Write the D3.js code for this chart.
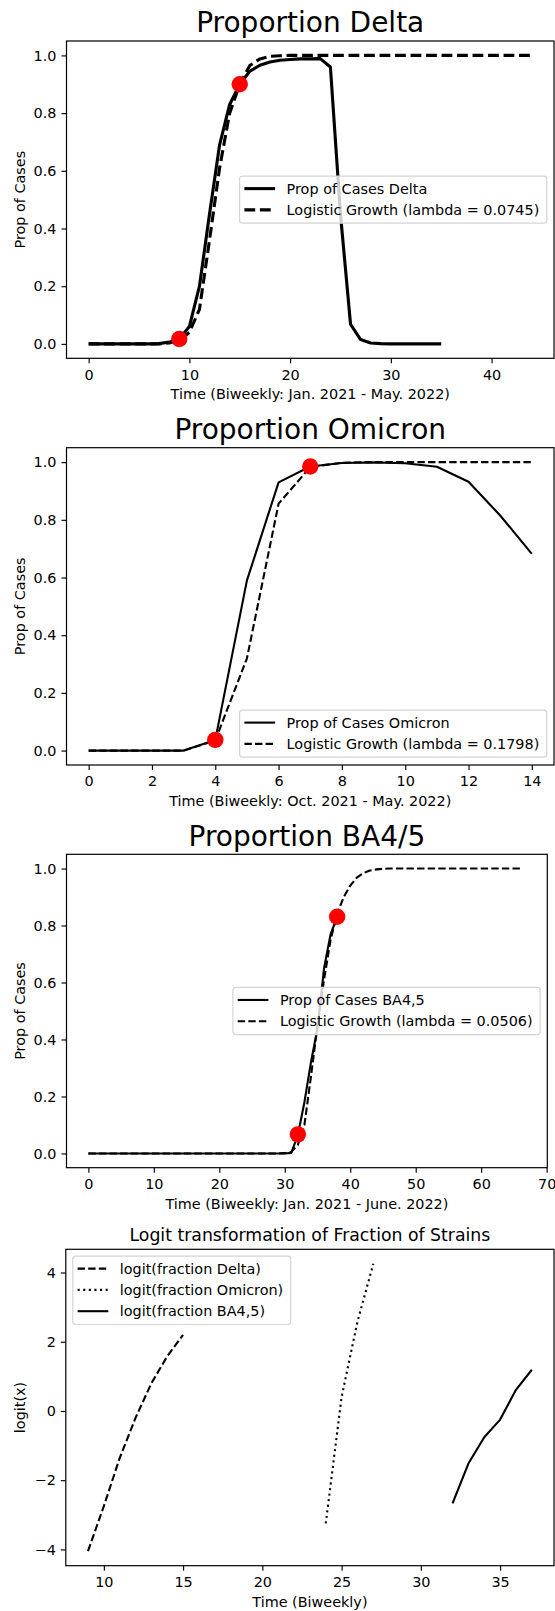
<!DOCTYPE html>
<html><head><meta charset="utf-8">
<script src="https://cdn.jsdelivr.net/npm/d3@7"></script>
<style>
body{margin:0;background:#fff}
svg{display:block}
text{font-family:"DejaVu Sans",sans-serif;fill:#000}
</style>
</head><body>
<svg id="chart" width="555" height="1611"></svg>
<script>
// ---------------- DATA ----------------
// Panel 1: Delta (biweekly index 0..35 observed, 0..44 logistic)
const deltaProp = [0,0,0,0,0,0,0,0.001,0.006,0.017,0.06,0.2,0.45,0.69,0.83,0.9,0.945,0.966,0.977,0.983,0.986,0.988,0.988,0.989,0.96,0.45,0.068,0.015,0.003,0.001,0,0,0,0,0,0];
const deltaLogistic = [0,0,0,0,0,0,0,0,0.003,0.012,0.04,0.12,0.36,0.61,0.8,0.9,0.965,0.988,0.997,0.999,1,1,1,1,1,1,1,1,1,1,1,1,1,1,1,1,1,1,1,1,1,1,1,1,1];
const deltaDotsT = [9, 15];
const deltaDotsV = [0.017, 0.9];

// Panel 2: Omicron (0..14)
const omicronProp = [0,0,0,0,0.037,0.59,0.93,0.985,0.997,0.999,0.996,0.984,0.932,0.815,0.682];
const omicronLogistic = [0,0,0,0,0.035,0.32,0.856,0.983,0.998,1,1,1,1,1,1];
const omicronDotsT = [4, 7];
const omicronDotsV = [0.037, 0.985];

// Panel 3: BA4/5 (0..38 observed, 0..66 logistic)
const ba45Prop = [0,0,0,0,0,0,0,0,0,0,0,0,0,0,0,0,0,0,0,0,0,0,0,0,0,0,0,0,0,0,0,0.002,0.065,0.18,0.32,0.44,0.65,0.77,0.83];
const ba45Logistic = [0,0,0,0,0,0,0,0,0,0,0,0,0,0,0,0,0,0,0,0,0,0,0,0,0,0,0,0,0,0,0.001,0.006,0.03,0.1,0.27,0.45,0.61,0.75,0.84,0.9,0.94,0.968,0.984,0.993,0.997,0.999,1,1,1,1,1,1,1,1,1,1,1,1,1,1,1,1,1,1,1,1,1];
const ba45DotsT = [32, 38];
const ba45DotsV = [0.067, 0.831];

// Panel 4: logit transforms
const logitDeltaT = [9,10,11,12,13,14,15];
const logitDelta = [-4.05,-2.75,-1.36,-0.2,0.8,1.58,2.2];
const logitOmicronT = [24,25,26,27];
const logitOmicron = [-3.25,0.4,2.58,4.25];
const logitBA45T = [32,33,34,35,36,37];
const logitBA45 = [-2.67,-1.52,-0.76,-0.25,0.61,1.19];

// Tick labels
const propTicks = [0,0.2,0.4,0.6,0.8,1.0];
const deltaXTicks = [0,10,20,30,40];
const omicronXTicks = [0,2,4,6,8,10,12,14];
const ba45XTicks = [0,10,20,30,40,50,60,70];
const logitXTicks = [10,15,20,25,30,35];
const logitYTicks = [-4,-2,0,2,4];

// Titles / labels
const titles = ["Proportion Delta","Proportion Omicron","Proportion BA4/5","Logit transformation of Fraction of Strains"];
const xLabels = ["Time (Biweekly: Jan. 2021 - May. 2022)","Time (Biweekly: Oct. 2021 - May. 2022)","Time (Biweekly: Jan. 2021 - June. 2022)","Time (Biweekly)"];
const yLabels = ["Prop of Cases","Prop of Cases","Prop of Cases","logit(x)"];
const legendLabels = [
  ["Prop of Cases Delta","Logistic Growth (lambda = 0.0745)"],
  ["Prop of Cases Omicron","Logistic Growth (lambda = 0.1798)"],
  ["Prop of Cases BA4,5","Logistic Growth (lambda = 0.0506)"],
  ["logit(fraction Delta)","logit(fraction Omicron)","logit(fraction BA4,5)"]
];

// ---------------- DRAW ----------------
const svg = d3.select("#chart");
const FS = 14.4;
const idx = arr => arr.map((v,i)=>[i,v]);
const zip = (ts,vs) => ts.map((t,i)=>[t,vs[i]]);

function styleFor(kind, lw){
  if(kind==="dashed") return {w:lw, dash:(3.5*lw).toFixed(1)+","+(1.5*lw).toFixed(1), cap:"butt"};
  if(kind==="dotted") return {w:lw, dash:(1*lw).toFixed(1)+","+(1.65*lw).toFixed(1), cap:"butt"};
  return {w:lw, dash:null, cap:"butt"};
}

function panel(cfg){
  const g = svg.append("g");
  const x = d3.scaleLinear().domain(cfg.xDomain).range([cfg.left,cfg.right]);
  const y = d3.scaleLinear().domain(cfg.yDomain).range([cfg.bottom,cfg.top]);

  const line = d3.line().x(d=>x(d[0])).y(d=>y(d[1]));
  cfg.series.forEach(s=>{
    const st = styleFor(s.kind, cfg.lw);
    g.append("path").datum(s.data).attr("d",line)
      .attr("fill","none").attr("stroke","#000").attr("stroke-width",st.w)
      .attr("stroke-linejoin","round").attr("stroke-linecap",st.cap)
      .attr("stroke-dasharray",st.dash);
  });
  if(cfg.dots){
    g.selectAll("circle.dot").data(cfg.dots).enter().append("circle")
      .attr("cx",d=>x(d[0])).attr("cy",d=>y(d[1])).attr("r",8.2).attr("fill","#ff0000");
  }

  const xa = g.append("g").attr("transform",`translate(0,${cfg.bottom})`)
    .call(d3.axisBottom(x).tickValues(cfg.xTicks).tickSize(5).tickPadding(6).tickFormat(d3.format("d")));
  const ya = g.append("g").attr("transform",`translate(${cfg.left},0)`)
    .call(d3.axisLeft(y).tickValues(cfg.yTicks).tickSize(5).tickPadding(5).tickFormat(cfg.yFmt));
  [xa,ya].forEach(a=>{
    a.select(".domain").remove();
    a.selectAll("line").attr("stroke","#000").attr("stroke-width",1.15);
    a.selectAll("text").attr("font-size",FS).attr("font-family","DejaVu Sans").attr("fill","#000");
  });

  g.append("rect").attr("x",cfg.left).attr("y",cfg.top)
    .attr("width",cfg.right-cfg.left).attr("height",cfg.bottom-cfg.top)
    .attr("fill","none").attr("stroke","#000").attr("stroke-width",1.2);

  g.append("text").attr("x",(cfg.left+cfg.right)/2).attr("y",cfg.top-8.8)
    .attr("text-anchor","middle").attr("font-size",cfg.titleSize).text(cfg.title);
  g.append("text").attr("x",(cfg.left+cfg.right)/2).attr("y",cfg.bottom+41)
    .attr("text-anchor","middle").attr("font-size",FS).text(cfg.xLabel);
  g.append("text").attr("transform",`translate(24.5,${(cfg.top+cfg.bottom)/2}) rotate(-90)`)
    .attr("text-anchor","middle").attr("font-size",FS).text(cfg.yLabel);

  const lg = g.append("g");
  const rowH = 21.3, topPad = 12.5, botPad = 13.3;
  const n = cfg.legend.length;
  const h = topPad + rowH*(n-1) + botPad;
  const rect = lg.append("rect").attr("rx",3).attr("ry",3)
    .attr("fill","#fff").attr("fill-opacity",0.8)
    .attr("stroke","#d4d4d4").attr("stroke-width",1.2);
  const texts = [];
  cfg.legend.forEach((L,i)=>{
    texts.push(lg.append("text").attr("font-size",FS).attr("dy","0.36em").text(L.label));
  });
  const maxW = d3.max(texts, t=>t.node().getComputedTextLength());
  const w = 47 + maxW + 7.5;
  let lx, ly;
  if(cfg.legendLoc==="center right"){ lx = cfg.right-7.2-w; ly = (cfg.top+cfg.bottom)/2 - h/2; }
  else if(cfg.legendLoc==="lower right"){ lx = cfg.right-7.2-w; ly = cfg.bottom-7.8-h; }
  else { lx = cfg.left+7.0; ly = cfg.top+6.8; }
  rect.attr("x",lx).attr("y",ly).attr("width",w).attr("height",h);
  cfg.legend.forEach((L,i)=>{
    const cy = ly + topPad + rowH*i;
    const st = styleFor(L.kind, cfg.lw);
    lg.append("line").attr("x1",lx+4.8).attr("x2",lx+35.5).attr("y1",cy).attr("y2",cy)
      .attr("stroke","#000").attr("stroke-width",st.w).attr("stroke-dasharray",st.dash)
      .attr("stroke-linecap",st.cap);
    texts[i].attr("x",lx+47).attr("y",cy);
    texts[i].raise();
  });
}

const f1 = d3.format(".1f");

panel({
  left:66.5,right:554,top:41,bottom:358.3,
  xDomain:[-2.2,46.2], yDomain:[-0.05,1.05], lw:3.1,
  xTicks:deltaXTicks, yTicks:propTicks, yFmt:f1,
  series:[{data:idx(deltaProp),kind:"solid"},{data:idx(deltaLogistic),kind:"dashed"}],
  dots:zip(deltaDotsT,deltaDotsV),
  title:titles[0], titleSize:28, xLabel:xLabels[0], yLabel:yLabels[0],
  legendLoc:"center right",
  legend:[{label:legendLabels[0][0],kind:"solid"},{label:legendLabels[0][1],kind:"dashed"}]
});

panel({
  left:66.5,right:554,top:447.7,bottom:765,
  xDomain:[-0.7,14.7], yDomain:[-0.05,1.05], lw:2.1,
  xTicks:omicronXTicks, yTicks:propTicks, yFmt:f1,
  series:[{data:idx(omicronProp),kind:"solid"},{data:idx(omicronLogistic),kind:"dashed"}],
  dots:zip(omicronDotsT,omicronDotsV),
  title:titles[1], titleSize:28, xLabel:xLabels[1], yLabel:yLabels[1],
  legendLoc:"lower right",
  legend:[{label:legendLabels[1][0],kind:"solid"},{label:legendLabels[1][1],kind:"dashed"}]
});

panel({
  left:66.5,right:547.3,top:854.3,bottom:1167.7,
  xDomain:[-3.34,70.1], yDomain:[-0.05,1.05], lw:2.1,
  xTicks:ba45XTicks, yTicks:propTicks, yFmt:f1,
  series:[{data:idx(ba45Prop),kind:"solid"},{data:idx(ba45Logistic),kind:"dashed"}],
  dots:zip(ba45DotsT,ba45DotsV),
  title:titles[2], titleSize:28, xLabel:xLabels[2], yLabel:yLabels[2],
  legendLoc:"center right",
  legend:[{label:legendLabels[2][0],kind:"solid"},{label:legendLabels[2][1],kind:"dashed"}]
});

panel({
  left:65.8,right:554,top:1249.3,bottom:1565.7,
  xDomain:[7.6,38.4], yDomain:[-4.47,4.67], lw:2.1,
  xTicks:logitXTicks, yTicks:logitYTicks, yFmt:d3.format("d"),
  series:[{data:zip(logitDeltaT,logitDelta),kind:"dashed"},
          {data:zip(logitOmicronT,logitOmicron),kind:"dotted"},
          {data:zip(logitBA45T,logitBA45),kind:"solid"}],
  dots:null,
  title:titles[3], titleSize:17.3, xLabel:xLabels[3], yLabel:yLabels[3],
  legendLoc:"upper left",
  legend:[{label:legendLabels[3][0],kind:"dashed"},{label:legendLabels[3][1],kind:"dotted"},{label:legendLabels[3][2],kind:"solid"}]
});
</script>
</body></html>
